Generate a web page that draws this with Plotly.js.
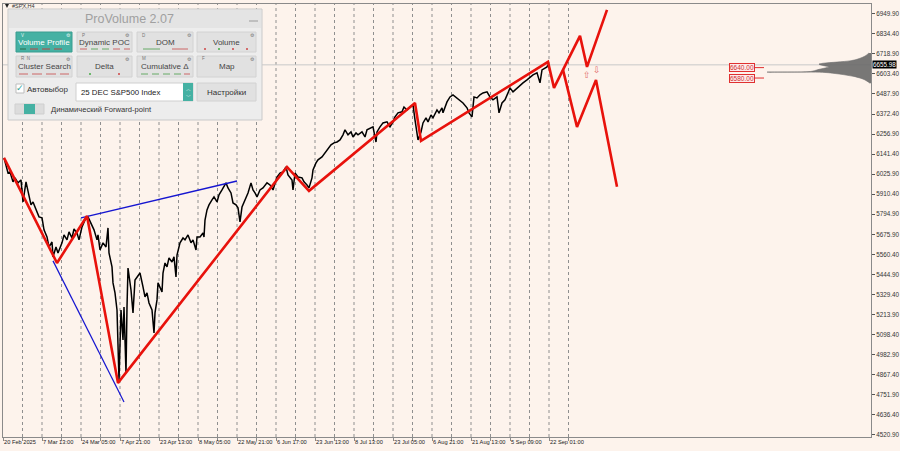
<!DOCTYPE html>
<html><head><meta charset="utf-8">
<script src="https://cdn.plot.ly/plotly-3.0.1.min.js"></script>
<style>html,body{margin:0;padding:0;background:#fdf3ec}#c{width:900px;height:451px}</style>
</head><body><div id="c"></div>
<script>
// ---- data (bar number = H4 bar slot, price = close) ----
const barNo = [2,6,10,14,20,24,30,36,40,46,50,56,60,68,72,78,82,88,92,98,100,106,110,118,122,128,132,138,142,148,152,158,164,170,
178,182,188,190,194,200,206,210,212,218,220,224,228,230,232,236,240,242,246,248,250,256,260,264,268,274,280,284,288,292,298,300,302,
304,308,310,314,318,320,324,328,332,338,342,346,348,354,360,364,370,376,380,386,388,394,400,402,404,408,412,418,422,428,432,438,442,
446,450,456,460,466,470,474,478,484,490,496,500,504,508,514,520,528,534,540,548,554,560,566,570,578,580,584,590,598,602,608,612,618,
620,626,630,638,644,650,656,662,668,674,680,684,690,696,700,706,710,718,724,728,734,740,746,748,754,760,768,774,780,784,790,798,802,
808,814,820,824,830,836,840,846,850,856,860,868,872,878,880,888,894,900,908,914,920,928,932,938,942,948,954,960,968,974,980,988,992,
998,1004,1010,1014,1020,1028,1034,1040,1048,1054,1060,1068,1074,1078,1084,1088,1090];
const closePrice = [6119,6079,6032,6038,5981,6004,5975,5992,5865,5981,5934,5848,5865,5807,5779,5773,5704,5663,5605,5634,5548,5605,5571,5629,5675,5646,5692,5657,5709,5686,5646,5721,5761,5779,
5732,5704,5646,5675,5588,5629,5605,5715,5571,5490,5398,5340,5242,5069,4838,5242,5069,5259,4878,5259,5484,5357,5225,5415,5432,5455,5375,5317,5340,5282,5242,5173,5109,
5225,5300,5398,5369,5346,5455,5513,5490,5542,5519,5548,5432,5559,5629,5657,5646,5675,5629,5646,5588,5663,5663,5686,5663,5761,5819,5848,5877,5894,5865,5906,5934,5952,5975,
5946,5917,5859,5848,5831,5750,5836,5877,5917,5975,5934,5917,5894,5934,5946,5975,5963,5934,6009,6032,6038,6067,6021,5992,5934,6032,6009,6004,5981,5963,5946,6004,6050,6090,
6108,6125,6148,6165,6194,6206,6211,6223,6252,6281,6252,6269,6240,6263,6252,6269,6240,6281,6292,6298,6211,6269,6298,6321,6327,6298,6327,6356,6379,6385,6413,6396,6413,6425,
6338,6223,6269,6321,6350,6327,6367,6350,6396,6379,6408,6379,6442,6471,6483,6465,6454,6436,6408,6379,6356,6471,6465,6483,6494,6500,6471,6454,6471,6379,6436,6454,6494,6523,
6500,6523,6540,6552,6569,6586,6598,6610,6552,6627,6638,6644,6656];
const lastPrice = 6655.98;

// analysis lines (vertex bar, vertex price)
const zigBars   = [2,108,168,230,568,612,824,836,1090,1102,1154,1168,1208];
const zigPrices = [6119,5513,5784,4821,6067,5929,6436,6217,6673,6523,6823,6644,6973];
const bearBars   = [1120,1148,1186,1228];
const bearPrices = [6627,6298,6569,5952];
const blueTopBars = [156,468],  blueTopPrices = [5773,5986];
const blueLowBars = [100,242],  blueLowPrices = [5525,4711];
const arrowUpBar = 1167, arrowUpPrice = 6598;
const arrowDnBar = 1187, arrowDnPrice = 6627;
const levelPrices = [6640.00, 6580.00];

// volume profile
const profPrice = [6725,6710,6698,6688,6680,6672,6665,6660,6655,6650,6645,6640,6635,6630,6625,6620,6616,6614,6612,6606,6600,6594,6588,6580,6572,6562,6550];
const profVol   = [2,5,9,14,20,34,48,52,50,46,42,44,48,52,55,58,64,104,46,36,28,22,16,11,7,4,1];

// axes labels
const priceTicks = [4520.90,4636.40,4751.90,4867.40,4982.90,5098.40,5213.90,5329.40,5444.90,5560.40,5675.90,5794.90,5910.40,6025.90,6141.40,6256.90,6372.40,6487.90,6603.40,6718.90,6834.40,6949.90];
const dateLabels = ['20 Feb 2025','7 Mar 13:00','24 Mar 05:00','7 Apr 21:00','23 Apr 13:00','8 May 05:00','22 May 21:00','6 Jun 17:00','23 Jun 13:00','8 Jul 13:00','23 Jul 05:00','6 Aug 21:00','21 Aug 13:00','5 Sep 09:00','22 Sep 01:00'];
const barsPerLabel = 78, barsPerGrid = 39, gridCount = 29;

// ---- helpers for the overlay panel (pixel -> paper) ----
const X = px => (px - 3) / 868;
const Y = py => (437 - py) / 433;
const F = 'Liberation Sans, Arial, sans-serif';

const n = Math.min(barNo.length, closePrice.length);
const traces = [
  {x: barNo.slice(0,n), y: closePrice.slice(0,n), type:'scatter', mode:'lines', line:{color:'#000', width:1.5}, hoverinfo:'skip'},
  {x: blueTopBars, y: blueTopPrices, mode:'lines', line:{color:'#1515d0', width:1.4}},
  {x: blueLowBars, y: blueLowPrices, mode:'lines', line:{color:'#1515d0', width:1.2}},
  {x: zigBars, y: zigPrices, mode:'lines', line:{color:'#e8120c', width:2.6}},
  {x: bearBars, y: bearPrices, mode:'lines', line:{color:'#e8120c', width:2.6}},
  {x: profVol, y: profPrice, xaxis:'x2', yaxis:'y', mode:'lines', fill:'tozerox', line:{color:'#6e6e6e', width:0.6, shape:'spline'}, fillcolor:'rgba(105,105,105,0.9)'}
];

const shapes = [];
const annotations = [];
// vertical dotted grid (history part only)
for (let k = 1; k <= gridCount; k++) {
  shapes.push({type:'line', xref:'x', yref:'paper', x0:k*barsPerGrid, x1:k*barsPerGrid, y0:0, y1:1, layer:'below', line:{color:'#8f8f8f', width:1, dash:'dot'}});
}
// current price line
shapes.push({type:'line', xref:'paper', yref:'y', x0:0, x1:1, y0:lastPrice, y1:lastPrice, layer:'below', line:{color:'#c8c8c8', width:1}});
// date labels
dateLabels.forEach((t,i) => annotations.push({x:i*barsPerLabel, y:Y(442), xref:'x', yref:'paper', text:t, showarrow:false, xanchor:'left', yanchor:'middle', xshift:-1, font:{family:F, size:5.7, color:'#222'}}));
// current price tag
annotations.push({x:1, y:lastPrice, xref:'paper', yref:'y', text:lastPrice.toFixed(2), showarrow:false, xanchor:'left', yanchor:'middle', xshift:1, bgcolor:'#000', borderpad:0, font:{family:F, size:6.3, color:'#fff'}});
// level tags
levelPrices.forEach(p => {
  annotations.push({x:1478, y:p, xref:'x', yref:'y', text:p.toFixed(2), showarrow:false, xanchor:'center', yanchor:'middle', bgcolor:'#fdeaea', bordercolor:'#e03030', borderwidth:1, borderpad:0, font:{family:F, size:6.5, color:'#d03030'}});
  shapes.push({type:'line', xref:'x', yref:'y', x0:1504, x1:1522, y0:p, y1:p, line:{color:'#e03030', width:1}});
});
// signal arrows
annotations.push({x:arrowUpBar, y:arrowUpPrice, xref:'x', yref:'y', text:'⇧', showarrow:false, borderpad:0, font:{family:'DejaVu Sans', size:9, color:'#e36a6a'}});
annotations.push({x:arrowDnBar, y:arrowDnPrice, xref:'x', yref:'y', text:'⇩', showarrow:false, borderpad:0, font:{family:'DejaVu Sans', size:9, color:'#e36a6a'}});
// symbol caption
annotations.push({x:X(10), y:Y(6), xref:'paper', yref:'paper', text:'#SPX,H4', showarrow:false, xanchor:'left', yanchor:'middle', font:{family:F, size:5.5, color:'#333'}});
shapes.push({type:'path', xref:'paper', yref:'paper', path:`M ${X(5)} ${Y(4)} L ${X(9)} ${Y(4)} L ${X(7)} ${Y(8)} Z`, fillcolor:'#222', line:{width:0}});

// ---- ProVolume panel ----
const rect = (x0,y0,x1,y1,fill,line) => shapes.push({type:'rect', xref:'paper', yref:'paper', x0:X(x0), x1:X(x1), y0:Y(y1), y1:Y(y0), fillcolor:fill, line:{color:line||fill, width:line?1:0}, layer:'above'});
const txt = (x,y,t,size,color,anchor) => annotations.push({x:X(x), y:Y(y), xref:'paper', yref:'paper', text:t, showarrow:false, xanchor:anchor||'center', yanchor:'middle', font:{family:F, size:size, color:color}});
const seg = (x0,x1,y,color) => shapes.push({type:'line', xref:'paper', yref:'paper', x0:X(x0), x1:X(x1), y0:Y(y), y1:Y(y), line:{color:color, width:1}, layer:'above'});
const dot = (x,y,color) => shapes.push({type:'circle', xref:'paper', yref:'paper', x0:X(x-1), x1:X(x+1), y0:Y(y+1), y1:Y(y-1), fillcolor:color, line:{width:0}, layer:'above'});

rect(8,9,262,120,'#ededed','#c9c9c9');
rect(9,10,261,28,'#e4e4e4');
txt(129,19,'ProVolume 2.07',12.5,'#a0a0a0');
seg(249,258,21,'#9a9a9a');
const btns = [
  [16,32,72,52,'Volume Profile','V'],[77,32,132,52,'Dynamic POC','P'],[137,32,193,52,'DOM','D'],[197,32,256,52,'Volume',''],
  [16,56,72,77,'Cluster Search','R  N'],[77,56,132,77,'Delta',''],[137,56,193,77,'Cumulative Δ','M'],[197,56,256,77,'Map','F']
];
btns.forEach((b,i) => {
  const active = i === 0;
  rect(b[0],b[1],b[2],b[3], active ? '#45b1a3' : '#e1e1e1', active ? '#3a9d90' : '#d2d2d2');
  txt((b[0]+b[2])/2, (b[1]+b[3])/2 + 0.5, b[4], 8, active ? '#ffffff' : '#454545');
  if (b[5]) txt(b[0]+3, b[1]+3, b[5], 4.5, active ? '#e0f4f1' : '#777', 'left');
  txt(b[2]-4, b[1]+3, '⚙', 5, active ? '#e0f4f1' : '#777');
});
// small indicator marks on buttons
[[20,26,'#2e6b4d'],[30,38,'#b44'],[42,50,'#b44'],[54,62,'#b44']].forEach(s=>seg(s[0],s[1],49,s[2]));
[[80,87,'#c66'],[91,98,'#6a6'],[102,109,'#6a6'],[113,120,'#c66'],[124,130,'#c66']].forEach(s=>seg(s[0],s[1],49,s[2]));
seg(143,160,49,'#6a6'); seg(172,188,49,'#c66');
[[19,28,'#c66'],[32,42,'#c66'],[46,56,'#c66'],[60,69,'#c66']].forEach(s=>seg(s[0],s[1],74,s[2]));
[[141,148,'#6a6'],[152,159,'#6a6'],[163,170,'#6a6'],[174,181,'#6a6'],[184,190,'#c66']].forEach(s=>seg(s[0],s[1],74,s[2]));
dot(205,49,'#c44'); dot(219,49,'#4a4'); dot(233,49,'#c44'); dot(247,49,'#c44');
dot(90,74,'#4a4'); dot(119,74,'#c44');
// row 3
rect(16,84,24,93,'#ffffff','#bdbdbd');
txt(20,88,'✓',9,'#2fa394');
txt(25,90,'Автовыбор',8,'#333','left');
rect(76,83,193,101,'#ffffff','#cfcfcf');
rect(183,83,193,101,'#45b1a3');
txt(79,92,'25 DEC S&P500 Index',7.8,'#222','left');
txt(188,89,'︿',5,'#fff'); txt(188,96,'﹀',5,'#fff');
rect(197,83,256,101,'#e1e1e1','#d2d2d2');
txt(226.5,92,'Настройки',8,'#333');
// row 4
rect(15,104,44,114,'#dcdcdc','#cfcfcf');
rect(24,104,35,114,'#45b1a3');
txt(49,109.5,'Динамический Forward-point',7.6,'#333','left');

const gridVals = Array.from({length:gridCount+1}, (_,k)=>k*barsPerGrid);
const layout = {
  width:900, height:451,
  margin:{l:3, r:29, t:4, b:14, pad:0},
  paper_bgcolor:'#fdf3ec', plot_bgcolor:'#fdf3ec',
  showlegend:false, hovermode:false,
  xaxis:{range:[0,1736], showgrid:false, zeroline:false, showline:true, mirror:true, linecolor:'#8a8a8a', linewidth:1,
         ticks:'outside', ticklen:3, tickcolor:'#8a8a8a', tickvals:gridVals, showticklabels:false, fixedrange:true},
  xaxis2:{overlaying:'x', anchor:'y', range:[868,0], visible:false, showgrid:false, zeroline:false},
  yaxis:{range:[4509,7007], side:'right', showgrid:false, zeroline:false, showline:true, mirror:true, linecolor:'#8a8a8a', linewidth:1,
         ticks:'outside', ticklen:3, tickcolor:'#555', tickvals:priceTicks, ticktext:priceTicks.map(v=>v.toFixed(2)),
         tickfont:{family:F, size:6.3, color:'#333'}, fixedrange:true},
  shapes:shapes, annotations:annotations
};
Plotly.newPlot('c', traces, layout, {staticPlot:true, displayModeBar:false});
</script>
</body></html>
